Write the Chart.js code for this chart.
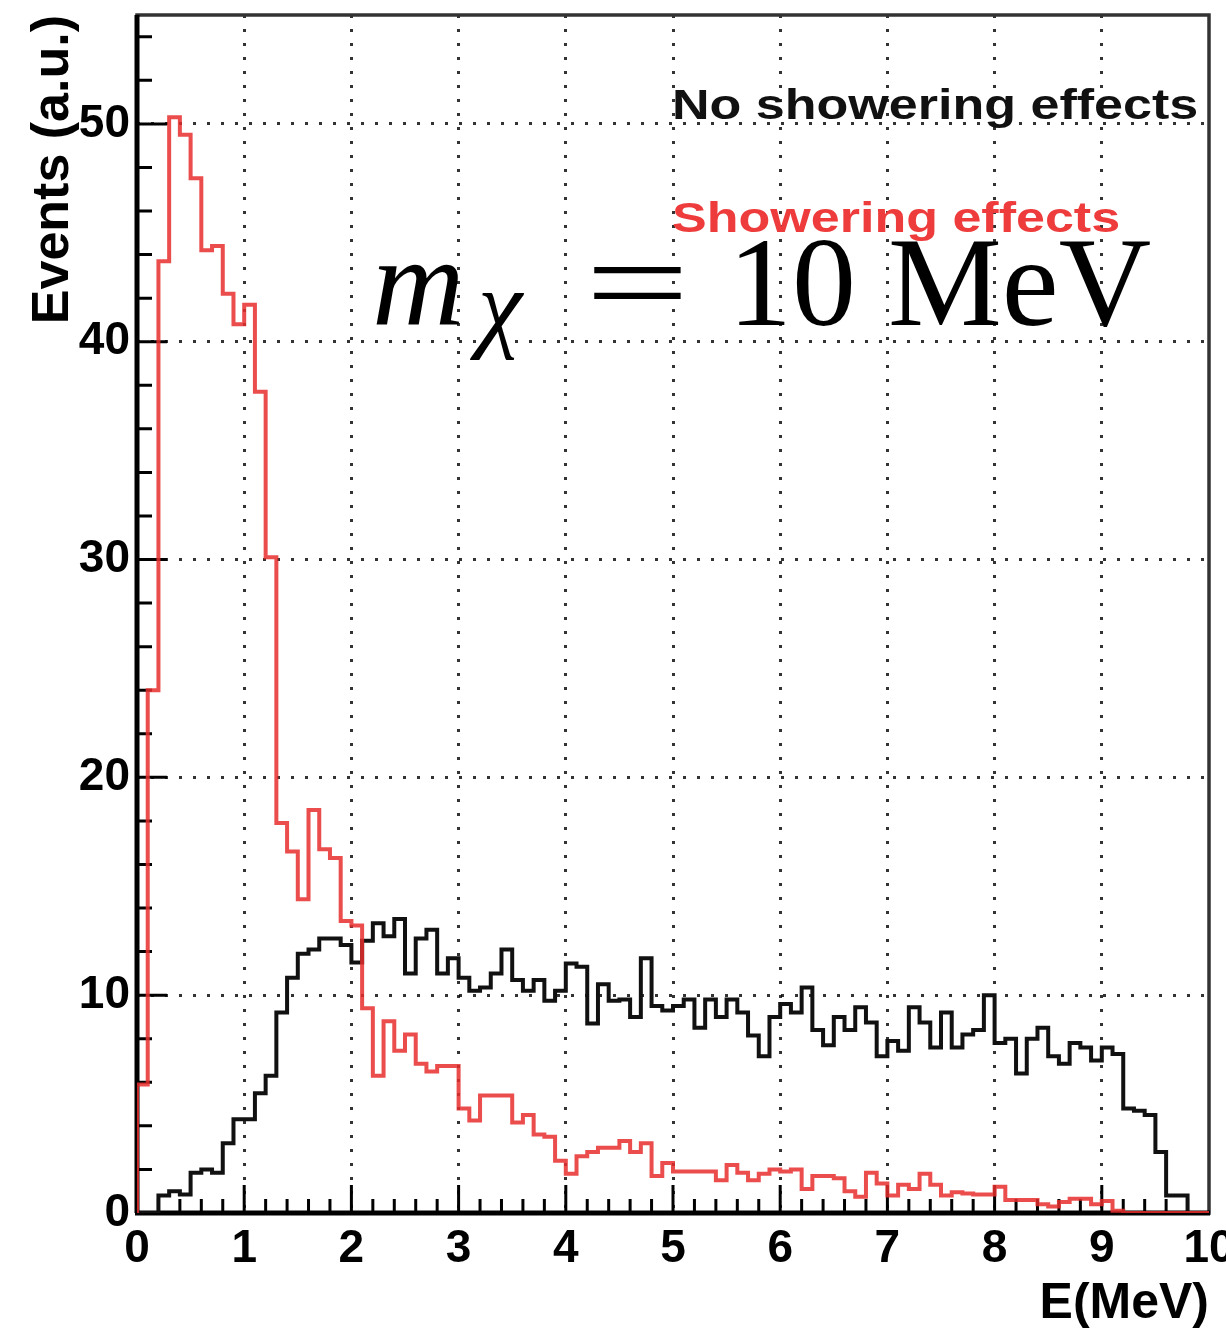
<!DOCTYPE html>
<html>
<head>
<meta charset="utf-8">
<title>Events vs E(MeV)</title>
<script src="https://cdn.jsdelivr.net/npm/chart.js@4.4.1/dist/chart.umd.min.js"></script>
<style>
  html, body { margin: 0; padding: 0; background: #fff; }
  #wrap { position: relative; width: 1226px; height: 1332px; overflow: hidden; }
  #plot { position: absolute; left: 0; top: 0; }
  .note {
    position: absolute; white-space: nowrap;
    font: bold 43px "Liberation Sans", Arial, sans-serif; line-height: 43px;
    transform: scaleX(1.21); transform-origin: 0 0;
  }
  .tex { position: absolute; white-space: nowrap; font-family: "Liberation Serif", "Times New Roman", serif; color: #000; }
</style>
</head>
<body>
<div id="wrap">
  <canvas id="plot" width="1226" height="1332"></canvas>
  <div class="note" style="left:672px; top:83px; color:#111;">No showering effects</div>
  <div class="note" style="left:672px; top:196px; color:#ee3b3b;">Showering effects</div>
  <span class="tex" style="left:372px; top:218px; font-size:128px; line-height:128px;"><i>m</i></span>
  <span class="tex" style="left:478px; top:256px; font-size:100px; line-height:100px;"><i>χ</i></span>
  <span class="tex" style="left:585px; top:218px; font-size:128px; line-height:128px; transform:scaleX(1.45); transform-origin:0 0;">=</span>
  <span class="tex" style="left:728px; top:218px; font-size:128px; line-height:128px;">10 MeV</span>
</div>
<script>
// histogram bins of 0.1 MeV from 0 to 10 MeV
const binWidth = 0.1;

const noShowering = [
  0, 0, 0.8, 1.0, 0.85, 1.85, 2.0, 1.85, 3.2, 4.3,
  4.3, 5.5, 6.3, 9.2, 10.8, 11.9, 12.1, 12.6, 12.6, 12.3,
  11.5, 12.5, 13.3, 12.7, 13.5, 11.0, 12.6, 13.0, 11.0, 11.7,
  10.8, 10.2, 10.35, 11.0, 12.1, 10.7, 10.2, 10.7, 9.75, 10.2,
  11.45, 11.3, 8.7, 10.5, 9.75, 9.8, 9.0, 11.7, 9.5, 9.3,
  9.5, 9.8, 8.5, 9.8, 9.0, 9.8, 9.2, 8.15, 7.2, 9.0,
  9.6, 9.2, 10.35, 8.4, 7.7, 9.0, 8.4, 9.45, 8.75, 7.2,
  7.9, 7.45, 9.45, 8.75, 7.6, 9.2, 7.6, 8.2, 8.4, 10.0,
  7.8, 8.0, 6.4, 8.0, 8.5, 7.2, 6.85, 7.8, 7.6, 7.0,
  7.6, 7.3, 4.8, 4.7, 4.5, 2.8, 0.8, 0.8, 0, 0
];

const showering = [
  5.9, 24.0, 43.7, 50.3, 49.5, 47.5, 44.2, 44.4, 42.2, 40.8,
  41.7, 37.7, 30.1, 17.9, 16.6, 14.4, 18.5, 16.7, 16.3, 13.4,
  13.2, 9.4, 6.3, 8.8, 7.45, 8.2, 6.85, 6.5, 6.75, 6.75,
  4.8, 4.25, 5.4, 5.4, 5.4, 4.15, 4.5, 3.6, 3.5, 2.4,
  1.8, 2.6, 2.8, 3.0, 3.0, 3.3, 2.8, 3.2, 1.7, 2.3,
  1.9, 1.9, 1.9, 1.9, 1.5, 2.2, 1.85, 1.5, 1.8, 2.0,
  1.9, 2.0, 1.1, 1.7, 1.7, 1.6, 1.0, 0.75, 1.85, 1.35,
  0.8, 1.3, 1.1, 1.8, 1.3, 0.8, 0.95, 0.9, 0.85, 0.85,
  1.2, 0.6, 0.6, 0.6, 0.4, 0.3, 0.5, 0.65, 0.65, 0.4,
  0.55, 0.1, 0, 0, 0, 0, 0, 0, 0, 0
];

const xTickValues = [0, 1, 2, 3, 4, 5, 6, 7, 8, 9, 10];
const yTickValues = [0, 10, 20, 30, 40, 50];
const xMinorStep = 0.2;
const yMinorStep = 2;

const labelFont = { family: '"Liberation Sans", Arial, sans-serif', weight: 'bold' };

// step outline: each bin value held from its left edge to the next one
function histogramPoints(counts) {
  const pts = [{ x: 0, y: 0 }];
  counts.forEach((c, i) => pts.push({ x: i * binWidth, y: c }));
  const end = counts.length * binWidth;
  pts.push({ x: end, y: counts[counts.length - 1] });
  pts.push({ x: end, y: 0 });
  return pts;
}

// black frame plus ROOT-style inner tick marks
const frameAndTicks = {
  id: 'frameAndTicks',
  beforeDatasetsDraw(chart) {
    const { ctx, chartArea: area, scales: { x, y } } = chart;
    ctx.save();
    ctx.strokeStyle = '#000';
    ctx.lineWidth = 3;
    ctx.beginPath();
    for (let k = 1; k * xMinorStep < x.max; k++) {
      const px = x.getPixelForValue(k * xMinorStep);
      const len = k % 5 === 0 ? 28 : 14;
      ctx.moveTo(px, area.bottom);
      ctx.lineTo(px, area.bottom - len);
    }
    for (let k = 1; k * yMinorStep < y.max; k++) {
      const py = y.getPixelForValue(k * yMinorStep);
      const len = k % 5 === 0 ? 30 : 15;
      ctx.moveTo(area.left, py);
      ctx.lineTo(area.left + len, py);
    }
    ctx.stroke();
    ctx.lineWidth = 3.5;
    ctx.strokeStyle = '#333';
    ctx.strokeRect(area.left, area.top, area.right - area.left, area.bottom - area.top);
    ctx.strokeStyle = '#000';
    ctx.lineWidth = 5;
    ctx.beginPath();
    ctx.moveTo(area.left - 2, area.bottom);
    ctx.lineTo(area.right + 1, area.bottom);
    ctx.moveTo(area.left, area.bottom);
    ctx.lineTo(area.left, area.top);
    ctx.stroke();
    ctx.restore();
  }
};

new Chart(document.getElementById('plot'), {
  type: 'line',
  data: {
    datasets: [
      {
        label: 'Showering effects',
        data: histogramPoints(showering),
        borderColor: 'rgba(232, 45, 45, 0.85)',
        borderWidth: 4,
        stepped: true,
        pointRadius: 0,
        fill: false
      },
      {
        label: 'No showering effects',
        data: histogramPoints(noShowering),
        borderColor: '#111',
        borderWidth: 4,
        stepped: true,
        pointRadius: 0,
        fill: false
      }
    ]
  },
  options: {
    responsive: false,
    devicePixelRatio: 1,
    animation: false,
    layout: { padding: { top: 15, right: 17, left: 0, bottom: 0 } },
    plugins: { legend: { display: false }, tooltip: { enabled: false } },
    scales: {
      x: {
        type: 'linear',
        min: 0,
        max: 10,
        afterBuildTicks: s => { s.ticks = xTickValues.map(v => ({ value: v })); },
        afterFit: s => { s.height = 119; s.paddingLeft = 0; s.paddingRight = 0; },
        grid: {
          drawTicks: false,
          lineWidth: 3,
          color: c => (c.tick && c.tick.value > 0 && c.tick.value < 10) ? 'rgba(0,0,0,0.8)' : 'transparent'
        },
        border: { display: false, dash: [3, 11] },
        ticks: {
          autoSkip: false, maxRotation: 0, padding: 9, color: '#000',
          font: { ...labelFont, size: 46, lineHeight: 1.2 }
        },
        title: {
          display: true, text: 'E(MeV)', align: 'end', color: '#000',
          font: { ...labelFont, size: 50, lineHeight: 1.1 },
          padding: { top: 0, bottom: 0 }
        }
      },
      y: {
        min: 0,
        max: 55,
        afterBuildTicks: s => { s.ticks = yTickValues.map(v => ({ value: v })); },
        afterFit: s => { s.width = 137; s.paddingTop = 0; s.paddingBottom = 0; },
        grid: {
          drawTicks: false,
          lineWidth: 3,
          color: c => (c.tick && c.tick.value > 0) ? 'rgba(0,0,0,0.8)' : 'transparent'
        },
        border: { display: false, dash: [3, 11] },
        ticks: {
          padding: 7, color: '#000',
          font: { ...labelFont, size: 46, lineHeight: 1.2 }
        },
        title: {
          display: true, text: 'Events (a.u.)', align: 'end', color: '#000',
          font: { ...labelFont, size: 52, lineHeight: 1.2 },
          padding: { top: 22, bottom: 0 }
        }
      }
    }
  },
  plugins: [frameAndTicks]
});
</script>
</body>
</html>
